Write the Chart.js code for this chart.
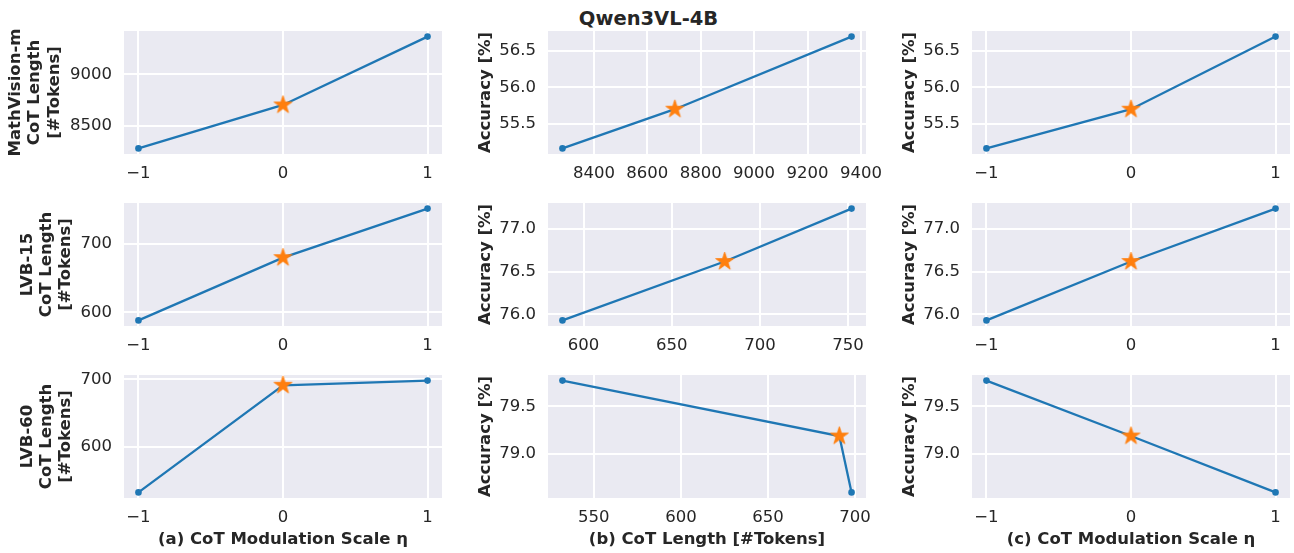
<!DOCTYPE html>
<html>
<head>
<meta charset="utf-8">
<script src="https://cdn.jsdelivr.net/npm/chart.js@4.4.1/dist/chart.umd.min.js"></script>
<style>
  html, body { margin: 0; padding: 0; background: #fff; }
  #fig { position: relative; width: 1294px; height: 553px; overflow: hidden; }
  #fig canvas { position: absolute; }
  #suptitle {
    position: absolute; left: 0; top: 9px; width: 1297px; text-align: center;
    font: bold 19.5px "DejaVu Sans"; line-height: 20px; color: #262626;
  }
</style>
</head>
<body>
<div id="fig">
  <div id="suptitle">Qwen3VL-4B</div>
</div>
<script>
// values
const etaScale = [-1, 0, 1];
const benchNames = ['MathVision-m', 'LVB-15', 'LVB-60'];

const mathvLen = [8282, 8703, 9365];
const mathvAcc = [55.16, 55.70, 56.70];
const lvb15Len = [588, 680, 752];
const lvb15Acc = [75.93, 76.62, 77.24];
const lvb60Len = [532, 691, 698];
const lvb60Acc = [79.77, 79.19, 78.60];

// tick labels
const etaTicks = [-1, 0, 1];
const mathvLenTicks = [8500, 9000];
const mathvLenXTicks = [8400, 8600, 8800, 9000, 9200, 9400];
const mathvAccTicks = [55.5, 56.0, 56.5];
const lvb15LenTicks = [600, 700];
const lvb15LenXTicks = [600, 650, 700, 750];
const lvb15AccTicks = [76.0, 76.5, 77.0];
const lvb60LenTicks = [600, 700];
const lvb60LenXTicks = [550, 600, 650, 700];
const lvb60AccTicks = [79.0, 79.5];

const xTitles = ['(a) CoT Modulation Scale η', '(b) CoT Length [#Tokens]', '(c) CoT Modulation Scale η'];

// layout
const colLeft = [124, 548, 972];
const rowTop = [31, 203, 375];
const plotW = 318, plotH = 123;
const axisW = 124, axisH = 55, padTop = 12, padRight = 30;

const blue = '#1f77b4';
const orange = '#ff7f0e';
const textCol = '#262626';
const baseIdx = etaScale.indexOf(0);

Chart.defaults.font.family = '"DejaVu Sans"';
Chart.defaults.color = textCol;

// filled star marker like matplotlib '*'
function makeStar(R) {
    const c = document.createElement('canvas');
    const s = Math.ceil(R * 2 + 4);
    c.width = s; c.height = s;
    const g = c.getContext('2d');
    const r = R * 0.382;
    g.beginPath();
    for (let i = 0; i < 10; i++) {
        const a = -Math.PI / 2 + i * Math.PI / 5;
        const rr = i % 2 === 0 ? R : r;
        const px = s / 2 + rr * Math.cos(a), py = s / 2 + rr * Math.sin(a);
        if (i === 0) g.moveTo(px, py); else g.lineTo(px, py);
    }
    g.closePath();
    g.fillStyle = orange;
    g.fill();
    g.strokeStyle = orange;
    g.lineWidth = 0.8;
    g.stroke();
    return c;
}
const starImg = makeStar(9.5);

const bgPlugin = {
    id: 'bg',
    beforeDraw(chart) {
        const a = chart.chartArea, ctx = chart.ctx;
        ctx.save();
        ctx.fillStyle = '#eaeaf2';
        ctx.fillRect(a.left, a.top, a.right - a.left, a.bottom - a.top);
        ctx.restore();
    }
};

function padded(vals) {
    const lo = Math.min(...vals), hi = Math.max(...vals);
    const m = (hi - lo) * 0.05;
    return [lo - m, hi + m];
}

function fmt(v, dec) {
    return (v < 0 ? '\u2212' : '') + Math.abs(v).toFixed(dec);
}

function makePanel(row, col, xs, ys, xTicks, yTicks, xDec, yDec, yTitle, yTitlePad, xTitle) {
    const cv = document.createElement('canvas');
    cv.width = axisW + plotW + padRight;
    cv.height = padTop + plotH + axisH;
    cv.style.left = (colLeft[col] - axisW) + 'px';
    cv.style.top = (rowTop[row] - padTop) + 'px';
    document.getElementById('fig').appendChild(cv);

    const [xMin, xMax] = padded(xs);
    const [yMin, yMax] = padded(ys);
    const pts = xs.map((x, i) => ({ x: x, y: ys[i] }));

    new Chart(cv, {
        type: 'line',
        data: {
            datasets: [
                {
                    data: [pts[baseIdx]],
                    showLine: false,
                    pointStyle: starImg,
                    pointRadius: 10,
                    order: -1
                },
                {
                    data: pts,
                    borderColor: blue,
                    borderWidth: 2.3,
                    pointRadius: 3.3,
                    pointBackgroundColor: blue,
                    pointBorderWidth: 0,
                    tension: 0,
                    order: 0
                }
            ]
        },
        options: {
            responsive: false,
            animation: false,
            events: [],
            layout: { padding: { top: padTop, right: padRight, left: 0, bottom: 0 } },
            plugins: { legend: { display: false }, tooltip: { enabled: false } },
            scales: {
                x: {
                    type: 'linear',
                    min: xMin, max: xMax,
                    afterBuildTicks: s => { s.ticks = xTicks.map(v => ({ value: v })); },
                    afterFit: s => { s.height = axisH; },
                    grid: { color: '#ffffff', lineWidth: 2, drawTicks: false },
                    border: { display: false },
                    ticks: {
                        padding: 10, maxRotation: 0, autoSkip: false,
                        font: { size: 16.5 },
                        callback: v => fmt(v, xDec)
                    },
                    title: {
                        display: !!xTitle,
                        text: xTitle || '',
                        font: { size: 16.5, weight: 'bold', lineHeight: 1.18 },
                        padding: { top: 0, bottom: 4 }
                    }
                },
                y: {
                    type: 'linear',
                    min: yMin, max: yMax,
                    afterBuildTicks: s => { s.ticks = yTicks.map(v => ({ value: v })); },
                    afterFit: s => {
                        s.width = axisW;
                        // keep the plot box where the layout puts it
                        s.paddingTop = 0;
                        s.paddingBottom = 0;
                    },
                    grid: { color: '#ffffff', lineWidth: 2, drawTicks: false },
                    border: { display: false },
                    ticks: {
                        padding: 12, autoSkip: false,
                        font: { size: 16.5 },
                        callback: v => fmt(v, yDec)
                    },
                    title: {
                        display: true,
                        text: yTitle,
                        font: { size: 16.5, weight: 'bold', lineHeight: 1.18 },
                        padding: { top: yTitlePad, bottom: 0 }
                    }
                }
            }
        },
        plugins: [bgPlugin]
    });
}

const lens = [mathvLen, lvb15Len, lvb60Len];
const accs = [mathvAcc, lvb15Acc, lvb60Acc];
const lenTicks = [mathvLenTicks, lvb15LenTicks, lvb60LenTicks];
const lenXTicks = [mathvLenXTicks, lvb15LenXTicks, lvb60LenXTicks];
const accTicks = [mathvAccTicks, lvb15AccTicks, lvb60AccTicks];
const lenTitlePad = [6, 17.5, 17.5];

for (let r = 0; r < 3; r++) {
    const last = r === 2;
    makePanel(r, 0, etaScale, lens[r], etaTicks, lenTicks[r], 0, 0,
        [benchNames[r], 'CoT Length', '[#Tokens]'], lenTitlePad[r], last ? xTitles[0] : null);
    makePanel(r, 1, lens[r], accs[r], lenXTicks[r], accTicks[r], 0, 1,
        'Accuracy [%]', 52, last ? xTitles[1] : null);
    makePanel(r, 2, etaScale, accs[r], etaTicks, accTicks[r], 0, 1,
        'Accuracy [%]', 52, last ? xTitles[2] : null);
}
</script>
</body>
</html>
